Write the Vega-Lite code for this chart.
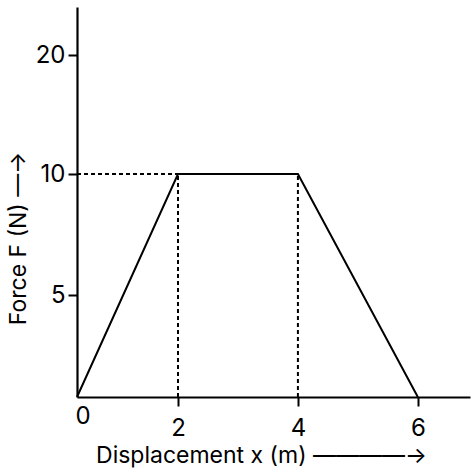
{
  "$schema": "https://vega.github.io/schema/vega-lite/v6.json",
  "autosize": "none",
  "width": 393,
  "height": 390,
  "padding": {"left": 77, "top": 7, "right": 4, "bottom": 76},
  "background": "white",
  "datasets": {
    "force": [
      {"x": 0, "F": 0},
      {"x": 2, "F": 10},
      {"x": 4, "F": 10},
      {"x": 6, "F": 0}
    ],
    "guides": [
      {"x": 0, "F": 10, "x2": 2, "F2": 10},
      {"x": 2, "F": 0, "x2": 2, "F2": 10},
      {"x": 4, "F": 0, "x2": 4, "F2": 10}
    ]
  },
  "encoding": {
    "x": {
      "field": "x",
      "type": "quantitative",
      "scale": {"domain": [0, 2, 6.87], "range": [0, 101, 393], "nice": false, "zero": false},
      "axis": {
        "values": [0, 2, 4, 6],
        "title": "Displacement x (m) ————→",
        "titleX": 184,
        "titleY": 58,
        "titleAlign": "center",
        "titleBaseline": "middle",
        "tickOpacity": {"condition": {"test": "datum.value === 0", "value": 0}, "value": 1},
        "labelPadding": {"condition": {"test": "datum.value === 0", "value": -2}, "value": 10},
        "labelOffset": {"condition": {"test": "datum.value === 0", "value": -2}, "value": 0}
      }
    },
    "y": {
      "field": "F",
      "type": "quantitative",
      "scale": {"domain": [0, 5, 10, 20, 24], "range": [390, 288, 167, 48, 0], "nice": false, "zero": false},
      "axis": {
        "values": [5, 10, 20],
        "title": "Force F (N) —→",
        "titleX": -59,
        "titleY": 231,
        "titleAngle": -90,
        "titleAlign": "center",
        "titleBaseline": "middle",
        "labelPadding": 3
      }
    }
  },
  "layer": [
    {
      "data": {"name": "guides"},
      "mark": {"type": "rule", "color": "black", "strokeWidth": 2, "strokeDash": [4, 3]},
      "encoding": {
        "x2": {"field": "x2"},
        "y2": {"field": "F2"}
      }
    },
    {
      "data": {"name": "force"},
      "mark": {"type": "line", "color": "black", "strokeWidth": 2}
    }
  ],
  "config": {
    "font": "Inter",
    "view": {"stroke": null},
    "axis": {
      "grid": false,
      "domainColor": "black",
      "domainWidth": 2.2,
      "tickColor": "black",
      "tickWidth": 2,
      "tickSize": 9,
      "labelColor": "black",
      "labelFont": "Inter",
      "labelFontSize": 24,
      "titleColor": "black",
      "titleFont": "Inter",
      "titleFontSize": 23,
      "titleFontWeight": "normal"
    }
  }
}
